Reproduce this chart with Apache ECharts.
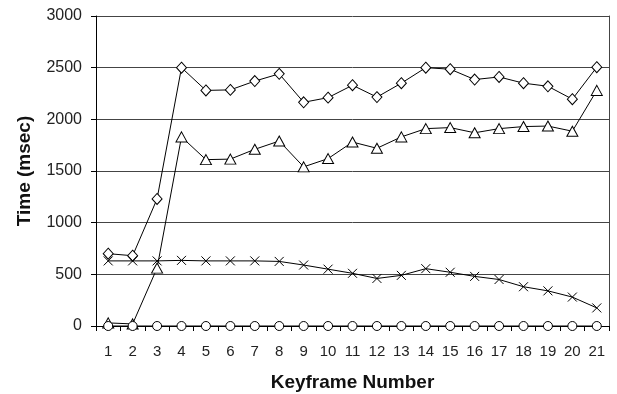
<!DOCTYPE html>
<html><head><meta charset="utf-8">
<script src="https://cdn.jsdelivr.net/npm/echarts@6/dist/echarts.min.js"></script>
<style>html,body{margin:0;padding:0;background:#fff}#c{width:617px;height:394px}</style>
</head><body><div id="c"></div>
<script>
const categories = ['1','2','3','4','5','6','7','8','9','10','11','12','13','14','15','16','17','18','19','20','21'];
const diamondSeries = [700,680,1230,2500,2280,2285,2370,2440,2165,2210,2330,2215,2350,2500,2485,2385,2410,2350,2320,2195,2505];
const triangleSeries = [30,20,560,1830,1610,1615,1710,1790,1540,1620,1780,1720,1830,1910,1920,1870,1910,1930,1935,1885,2280];
const crossSeries = [630,630,630,635,630,630,630,625,590,550,510,460,490,555,520,480,450,380,340,280,175];
const circleSeries = [0,0,0,0,0,0,0,0,0,0,0,0,0,0,0,0,0,0,0,0,0];
const yTicks = [0,500,1000,1500,2000,2500,3000];

const font = 'Liberation Sans, Arial, sans-serif';
const chart = echarts.init(document.getElementById('c'));
function mk(name, data, symbol, size){
  return {name, type:'line', data, symbol, symbolSize:size, showAllSymbol:true,
    lineStyle:{color:'#000', width:1}, itemStyle:{color:'#fff', borderColor:'#000', borderWidth:1},
    emphasis:{disabled:true}, animation:false, z:3};
}
const xSym = 'path://M0,0L10,10M10,0L0,10';
chart.setOption({
  animation:false,
  grid:{left:96, right:8, top:16, bottom:68, containLabel:false, outerBoundsMode:'none'},
  xAxis:{type:'category', data:categories, boundaryGap:true,
    name:'Keyframe Number', nameLocation:'middle', nameGap:47,
    nameTextStyle:{fontFamily:font, fontWeight:'bold', fontSize:19, color:'#111'},
    axisLine:{lineStyle:{color:'#000', width:1}},
    axisTick:{show:true, length:5, lineStyle:{color:'#000'}, alignWithLabel:false},
    axisLabel:{fontFamily:font, fontSize:15, color:'#222', margin:18, interval:0},
    splitLine:{show:false}},
  yAxis:[{type:'value', min:0, max:3000, interval:500,
    name:'Time (msec)', nameLocation:'middle', nameGap:62,
    nameTextStyle:{fontFamily:font, fontWeight:'bold', fontSize:19, color:'#111'},
    axisLine:{show:true, lineStyle:{color:'#000', width:1}},
    axisTick:{show:true, length:5, inside:false, lineStyle:{color:'#000'}},
    axisLabel:{fontFamily:font, fontSize:16, color:'#222', margin:14,
      formatter:v=> yTicks.includes(v)? String(v):''},
    splitLine:{show:true, lineStyle:{color:'#444', width:1}}},
   {type:'value', min:0, max:3000, interval:500, position:'right',
    axisLine:{show:true, lineStyle:{color:'#444', width:1}},
    axisTick:{show:false}, axisLabel:{show:false}, splitLine:{show:false}}],
  series:[
    mk('Diamond', diamondSeries, 'diamond', [10,11]),
    mk('Triangle', triangleSeries, 'triangle', [11,10]),
    Object.assign(mk('Cross', crossSeries, xSym, 9), {itemStyle:{color:'none', borderColor:'#000', borderWidth:1}}),
    mk('Circle', circleSeries, 'circle', 9)
  ]
});
</script></body></html>
